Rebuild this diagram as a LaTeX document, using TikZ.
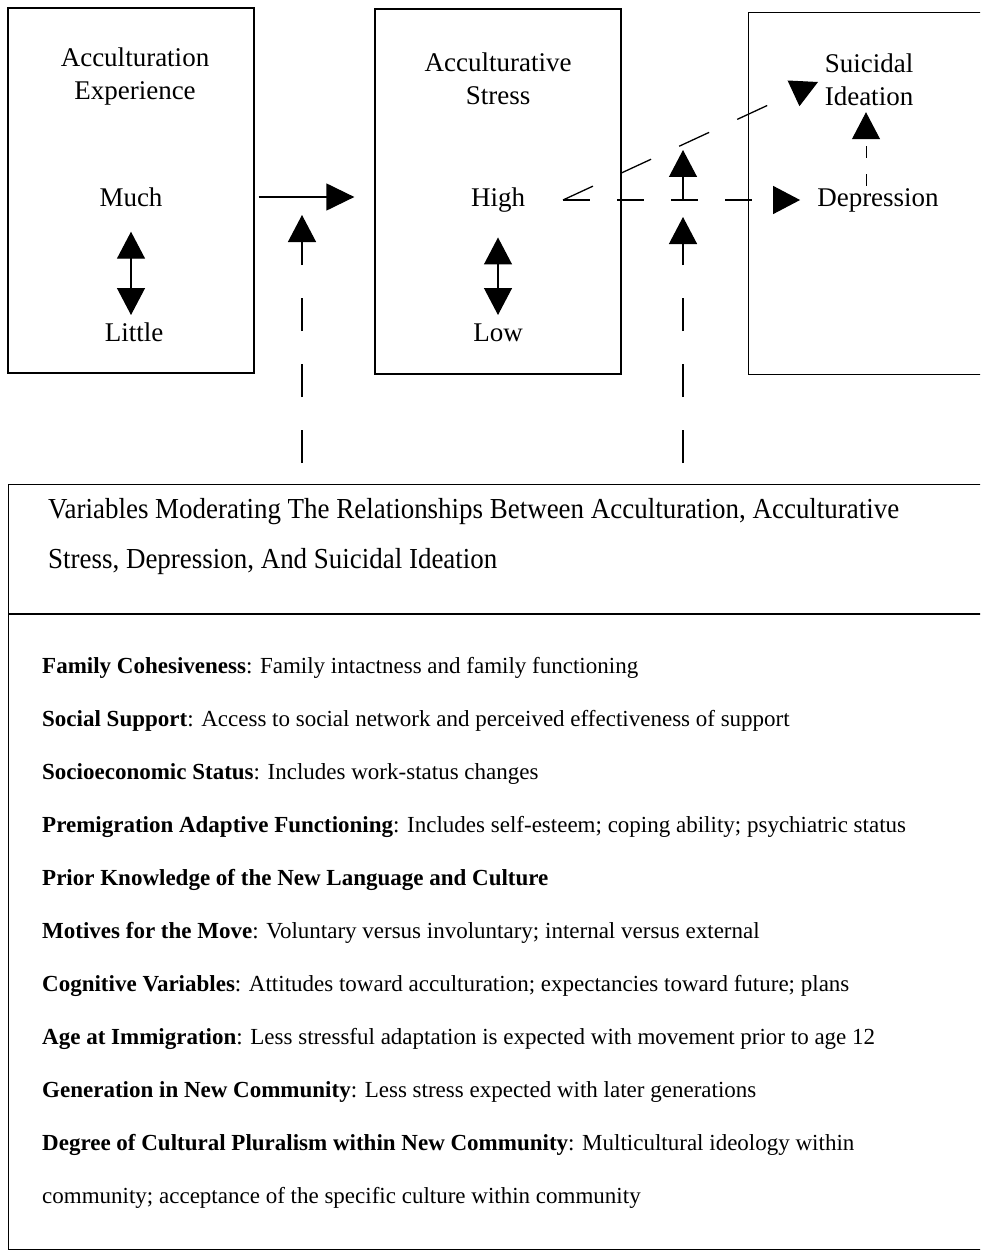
\documentclass[tikz,border=0pt]{standalone}
\usepackage{fontspec}
\setmainfont{Liberation Serif}
\usetikzlibrary{arrows.meta,positioning}

\tikzset{
  box/.style={draw, line width=1.3pt, inner sep=0pt},
  lbl/.style={font=\fontsize{27}{33}\selectfont, align=center, inner sep=0pt},
  hdline/.style={font=\fontsize{29}{35}\selectfont, anchor=west, inner sep=0pt},
  item/.style={font=\fontsize{23}{28}\selectfont, anchor=west, inner sep=0pt},
  solidarrow/.style={line width=1.3pt, -{Triangle[length=28pt,width=27pt]}},
  dasharrow/.style={line width=1.3pt, dash pattern=on 33pt off 33pt, -{Triangle[length=27pt,width=28pt]}},
  dblarrow/.style={line width=1.3pt, {Triangle[length=27pt,width=28pt]}-{Triangle[length=27pt,width=28pt]}},
}

\newlength\hdwd
\newcommand\hdtext{Variables Moderating The Relationships Between Acculturation, Acculturative}

\begin{document}
\settowidth\hdwd{\fontsize{29}{35}\selectfont\hdtext}
\pgfmathsetmacro\hdsc{851/\hdwd}
\begin{tikzpicture}[x=1pt,y=-1pt]
\fill[white] (0,0) rectangle (980,1252);
\useasboundingbox (0,0) rectangle (980,1252);
\clip (0,0) rectangle (980,1252);

% the three stages
\node[box, minimum width=246pt, minimum height=365pt] (exp) at (131,190.5) {};
\node[box, minimum width=246pt, minimum height=365pt] (str) at (498,191.5) {};
\node[box, minimum width=262pt, minimum height=362pt, anchor=north west] (sui) at (748,12) {};

\node[lbl] (exptitle) at (135,77) {Acculturation\\Experience};
\node[lbl] (much) at (131,197) {Much};
\node[lbl] (little) at (134,332) {Little};
\draw[dblarrow, shorten <=25pt, shorten >=17pt] (much) -- (much |- little);

\node[lbl] (strtitle) at (498,79) {Acculturative\\Stress};
\node[lbl] (high) at (498,200) {High};
\node[lbl] (low) at (498,333) {Low};
\draw[dblarrow, shorten <=25pt, shorten >=18pt] (high) -- (high |- low);

\node[lbl] (suititle) at (869,80) {Suicidal\\Ideation};
\node[lbl] (dep) at (878,200) {Depression};

% links between stages
\coordinate (split) at (563,200);
\coordinate (ideain) at (818,82);
\draw[solidarrow, shorten <=4pt, shorten >=20pt] (exp.east |- much) -- (str.west |- much);
\draw[dasharrow, dash pattern=on 27pt off 27pt, shorten >=17pt] (split) -- (dep.west);
\draw[dasharrow, dash pattern=on 33pt off 31pt] (split) -- (ideain);
\draw[dasharrow, line width=1pt, dash pattern=on 12pt off 16pt, shorten <=2pt, shorten >=6pt]
  ([xshift=-12pt]dep.north) -- ([xshift=-12pt]dep.north |- suititle.south);

% moderators
\coordinate (moda) at (302,463);
\coordinate (tipa) at (302,215);
\coordinate (modb) at (683,463);
\coordinate (tipb) at (683,217);
\coordinate (crossb) at (683,200);
\coordinate (tipc) at (683,150);
\draw[dasharrow] (moda) -- (tipa);
\draw[dasharrow] (modb) -- (tipb);
\draw[solidarrow, -{Triangle[length=27pt,width=28pt]}] (crossb) -- (tipc);

% moderator box
\node[box, minimum width=1000pt, minimum height=765pt, anchor=north west] (mod) at (8,484) {};
\coordinate (divl) at (8,614);
\coordinate (divr) at (1010,614);
\draw[line width=1.3pt] (divl) -- (divr);

\node[hdline] (hd1) at (48,512) {\scalebox{\hdsc}[1]{\hdtext}};
\node[hdline] (hd2) at (48,562) {\scalebox{\hdsc}[1]{Stress, Depression, And Suicidal Ideation}};

\node[item] (it1) at (42,668) {\textbf{Family Cohesiveness}: Family intactness and family functioning};
\node[item] (it2) at (42,721) {\textbf{Social Support}: Access to social network and perceived effectiveness of support};
\node[item] (it3) at (42,774) {\textbf{Socioeconomic Status}: Includes work-status changes};
\node[item] (it4) at (42,827) {\textbf{Premigration Adaptive Functioning}: Includes self-esteem; coping ability; psychiatric status};
\node[item] (it5) at (42,880) {\textbf{Prior Knowledge of the New Language and Culture}};
\node[item] (it6) at (42,933) {\textbf{Motives for the Move}: Voluntary versus involuntary; internal versus external};
\node[item] (it7) at (42,986) {\textbf{Cognitive Variables}: Attitudes toward acculturation; expectancies toward future; plans};
\node[item] (it8) at (42,1039) {\textbf{Age at Immigration}: Less stressful adaptation is expected with movement prior to age 12};
\node[item] (it9) at (42,1092) {\textbf{Generation in New Community}: Less stress expected with later generations};
\node[item] (it10) at (42,1145) {\textbf{Degree of Cultural Pluralism within New Community}: Multicultural ideology within};
\node[item] (it11) at (42,1198) {community; acceptance of the specific culture within community};
\end{tikzpicture}
\end{document}
